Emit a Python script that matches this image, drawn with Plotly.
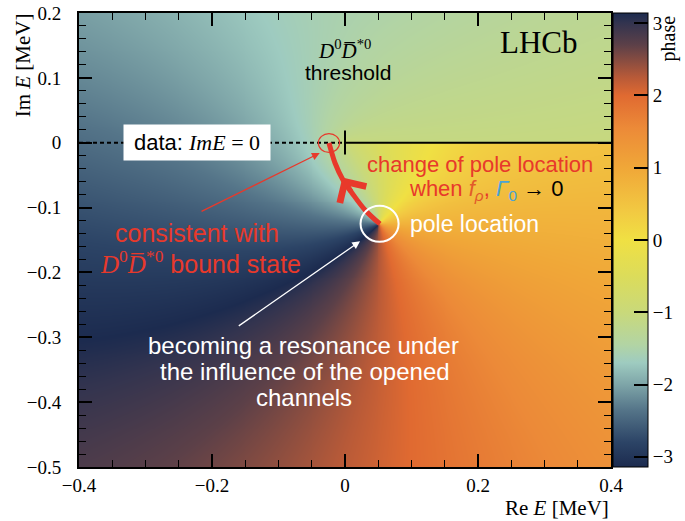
import numpy as np
import plotly.graph_objects as go

# ---- axis ranges [MeV] -------------------------------------------------------
RE_RANGE = [-0.4, 0.4]
IM_RANGE = [-0.5, 0.2]
RE_TICKS = [-0.4, -0.2, 0.0, 0.2, 0.4]
IM_TICKS = [-0.5, -0.4, -0.3, -0.2, -0.1, 0.0, 0.1, 0.2]
PHASE_TICKS = [-3, -2, -1, 0, 1, 2, 3]

# ---- amplitude model in s = sqrt(-E) -----------------------------------------
POLE_E = 0.052 - 0.125j      # pole position [MeV]
FAR_ROOT_S = -1.5            # second root of the denominator (off the shown sheet)
BACKGROUND_E = [0.3j, -0.6]  # slowly varying background factors (outside the frame)
BACKGROUND_POWER = [-0.10, 0.12]
PHASE_OFFSET = -3.30         # overall phase [rad]
THRESHOLD_E = 0.0            # D0 D*0bar threshold [MeV]

# ---- pole trajectory when f_rho, Gamma_0 -> 0 ---------------------------------
TRAJ_RE = [0.0526, 0.0301, 0.0105, -0.0030, -0.0150, -0.0211, -0.0241]
TRAJ_IM = [-0.1253, -0.1037, -0.0775, -0.0575, -0.0313, -0.0112, -0.0005]

RED = "#e8392b"
SANS = "Liberation Sans"
SERIF = "Liberation Serif"

# phase map on a grid of cell centres (keeps the real axis off the grid)
nx, ny = 540, 460
dx = (RE_RANGE[1] - RE_RANGE[0]) / nx
dy = (IM_RANGE[1] - IM_RANGE[0]) / ny
re = RE_RANGE[0] + (np.arange(nx) + 0.5) * dx
im = IM_RANGE[0] + (np.arange(ny) + 0.5) * dy
E = re[None, :] + 1j * im[:, None]
s = np.sqrt(-(E - THRESHOLD_E))
s_pole = np.sqrt(-(POLE_E - THRESHOLD_E))
T = np.exp(1j * PHASE_OFFSET) / ((s - s_pole) * (s - FAR_ROOT_S))
for e_k, p_k in zip(BACKGROUND_E, BACKGROUND_POWER):
    T = T * np.exp(1j * p_k * np.angle(E - e_k))
phase = np.round(np.angle(T), 3)

PHASE_COLORS = [
    (-np.pi, "#1c2b4f"), (-2.8, "#2c4466"), (-2.35, "#557589"), (-2.0, "#7ea5a8"),
    (-1.7, "#9ecbc0"), (-1.45, "#b2d4a4"), (-1.0, "#c9d97a"), (-0.5, "#dcdc5a"),
    (0.0, "#f0e043"), (0.4, "#f2c942"), (1.0, "#f0a738"), (1.55, "#ec8a38"),
    (2.0, "#e06a31"), (2.25, "#b85a38"), (2.7, "#5c4048"), (3.0, "#33344f"),
    (np.pi, "#1c2b4f"),
]
colorscale = [[(p + np.pi) / (2 * np.pi), c] for p, c in PHASE_COLORS]

fig = go.Figure()
fig.add_trace(go.Heatmap(
    x=re, y=im, z=phase, zmin=-np.pi, zmax=np.pi, colorscale=colorscale,
    hoverinfo="skip",
    colorbar=dict(
        x=1.004, xanchor="left", xpad=0, y=0.5, yanchor="middle", ypad=0,
        len=1.0, thickness=35, outlinecolor="black", outlinewidth=1,
        ticks="inside", ticklen=14, tickwidth=2, tickcolor="black",
        tickvals=PHASE_TICKS,
        ticktext=[("\u2212" + str(-t)) if t < 0 else str(t) for t in PHASE_TICKS],
        tickfont=dict(family=SERIF, size=19, color="black"),
    ),
))

# real axis: dashed below threshold, cut above threshold, threshold mark
fig.add_trace(go.Scatter(x=[RE_RANGE[0], THRESHOLD_E], y=[0, 0], mode="lines",
                         line=dict(color="black", width=2, dash="4px,3px"), hoverinfo="skip"))
fig.add_trace(go.Scatter(x=[THRESHOLD_E, RE_RANGE[1]], y=[0, 0], mode="lines",
                         line=dict(color="black", width=2), hoverinfo="skip"))
fig.add_trace(go.Scatter(x=[THRESHOLD_E, THRESHOLD_E], y=[-0.018, 0.019], mode="lines",
                         line=dict(color="black", width=2), hoverinfo="skip"))

# pole trajectory
fig.add_trace(go.Scatter(x=TRAJ_RE, y=TRAJ_IM, mode="lines", line=dict(color=RED, width=5, shape="spline"),
                         hoverinfo="skip"))

ann = []
# chevron on the trajectory
ann.append(dict(x=TRAJ_RE[3] - 0.001, y=TRAJ_IM[3] + 0.004, ax=TRAJ_RE[2], ay=TRAJ_IM[2],
                xref="x", yref="y", axref="x", ayref="y", text="", showarrow=True,
                arrowhead=4, arrowsize=1.2, arrowwidth=5, arrowcolor=RED, standoff=0))
# thin red arrow to the circled end point
ann.append(dict(x=-0.038, y=-0.016, ax=-0.218, ay=-0.107, xref="x", yref="y", axref="x", ayref="y",
                text="", showarrow=True, arrowhead=2, arrowsize=1.2, arrowwidth=1.3, arrowcolor=RED))
# thin white arrow to the pole
ann.append(dict(x=0.0226, y=-0.152, ax=-0.162, ay=-0.284, xref="x", yref="y", axref="x", ayref="y",
                text="", showarrow=True, arrowhead=2, arrowsize=1.2, arrowwidth=1.3, arrowcolor="white"))

def label(x, y, text, size, color, family=SANS, **kw):
    d = dict(x=x, y=y, xref="x", yref="y", text=text, showarrow=False,
             font=dict(family=family, size=size, color=color), xanchor="center", yanchor="middle")
    d.update(kw)
    ann.append(d)

label(0.2917, 0.155, "LHCb", 31, "black", SERIF)
label(-0.0015, 0.144, "<i>D</i><sup>0</sup><i>D\u0305</i><sup>*0</sup>", 21, "black", SERIF)
label(0.0045, 0.109, "threshold", 21, "black")
label(-0.222, 0.0, "data: <span style='font-family:Liberation Serif'><i>ImE</i> = 0</span>", 22, "black",
      bgcolor="white", width=146, height=35, borderpad=0)
label(0.203, -0.034, "change of pole location", 22, RED)
label(0.2135, -0.073,
      "when <span style='color:#e25a2a'><i>f<sub>ρ</sub></i></span>, "
      "<span style='color:#4aa3d6'><i>Γ</i><sub>0</sub></span> "
      "<span style='color:black'>→ 0</span>", 22, RED)
label(0.194, -0.125, "pole location", 23, "white")
label(-0.2226, -0.139, "consistent with", 25, RED)
label(-0.218, -0.184,
      "<span style='font-family:Liberation Serif'><i>D</i><sup>0</sup><i>D\u0305</i><sup>*0</sup></span> bound state",
      25, RED)
label(-0.0617, -0.312, "becoming a resonance under", 24, "white")
label(-0.060, -0.353, "the influence of the opened", 24, "white")
label(-0.0617, -0.393, "channels", 24, "white")

# axis titles and colour-bar title
ann.append(dict(x=1.0, y=-0.09, xref="paper", yref="paper", xanchor="right", yanchor="middle",
                text="Re <i>E</i> [MeV]", showarrow=False, font=dict(family=SERIF, size=21, color="black")))
ann.append(dict(x=-0.105, y=1.004, xref="paper", yref="paper", xanchor="center", yanchor="top",
                text="Im <i>E</i> [MeV]", textangle=-90, showarrow=False,
                font=dict(family=SERIF, size=21, color="black")))
ann.append(dict(x=1.108, y=1.0, xref="paper", yref="paper", xanchor="center", yanchor="top",
                text="phase", textangle=-90, showarrow=False,
                font=dict(family=SERIF, size=20, color="black")))

shapes = [
    # white ring around the pole
    dict(type="circle", xref="x", yref="y", x0=POLE_E.real - 0.0286, x1=POLE_E.real + 0.0286,
         y0=POLE_E.imag - 0.0277, y1=POLE_E.imag + 0.0277, line=dict(color="white", width=2)),
    # red ring around the trajectory end point
    dict(type="circle", xref="x", yref="y", x0=TRAJ_RE[-1] - 0.016, x1=TRAJ_RE[-1] + 0.016,
         y0=TRAJ_IM[-1] - 0.0145, y1=TRAJ_IM[-1] + 0.0145, line=dict(color=RED, width=1.2)),
]

def fmt(v):
    if abs(v) < 1e-9:
        return "0"
    t = f"{abs(v):.1f}"
    return ("\u2212" + t) if v < 0 else t

axis_common = dict(showgrid=False, zeroline=False, showline=True, linecolor="black", linewidth=2,
                   mirror="allticks", ticks="inside", ticklen=13, tickwidth=1.5, tickcolor="black",
                   tickfont=dict(family=SERIF, size=19, color="black"))

fig.update_layout(
    width=685, height=521, margin=dict(l=79, r=74, t=13, b=54, autoexpand=False),
    paper_bgcolor="white", plot_bgcolor="white", showlegend=False,
    annotations=ann, shapes=shapes,
    xaxis=dict(range=RE_RANGE, tickvals=RE_TICKS, ticktext=[fmt(v) for v in RE_TICKS],
               minor=dict(dtick=0.05, tick0=0, ticks="inside", ticklen=7, tickcolor="black", tickwidth=1.2),
               **axis_common),
    yaxis=dict(range=IM_RANGE, tickvals=IM_TICKS, ticktext=[fmt(v) for v in IM_TICKS],
               ticklabelstandoff=12,
               minor=dict(dtick=0.02, tick0=0, ticks="inside", ticklen=7, tickcolor="black", tickwidth=1.2),
               **axis_common),
)

fig.write_html("out.html")
